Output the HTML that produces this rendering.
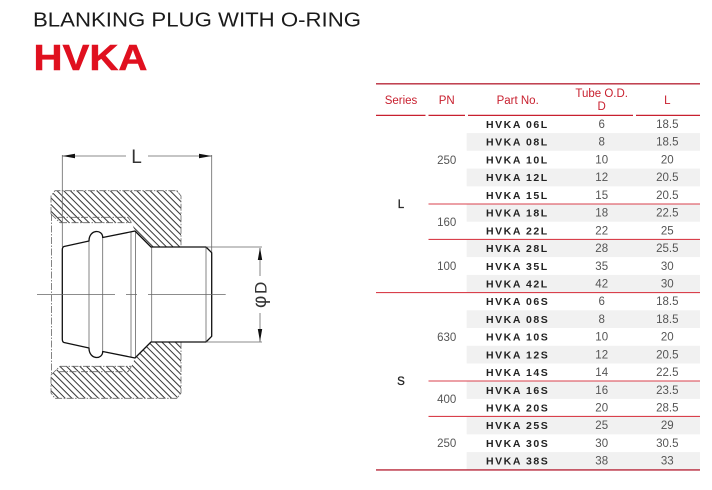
<!DOCTYPE html>
<html lang="en">
<head>
<meta charset="utf-8">
<title>HVKA</title>
<style>
html,body{margin:0;padding:0;background:#fff;width:712px;height:490px;overflow:hidden}
svg{display:block}
text{font-family:"Liberation Sans",sans-serif}
.h{fill:#c8202f;font-size:11.5px;text-anchor:middle}
.n{fill:#555;font-size:11.5px;text-anchor:middle}
.p{fill:#222;font-size:10.5px;font-weight:bold;letter-spacing:1.55px}
.s{fill:#222;font-size:11.5px;text-anchor:middle;stroke:#222;stroke-width:.3}
.st{fill:#f1f1f1}
.r{stroke:#d9404c;stroke-width:1.1;fill:none}
.o{fill:none;stroke:#666;stroke-width:.8;stroke-dasharray:7 1.5 1.5 1.5}
.k{fill:none;stroke:#111;stroke-width:1.3;stroke-linejoin:round}
.t{stroke:#666;stroke-width:.8;fill:none}
</style>
</head>
<body>
<svg width="712" height="490" viewBox="0 0 712 490" xmlns="http://www.w3.org/2000/svg">
<defs>
<pattern id="ha" width="4.7" height="4.7" patternUnits="userSpaceOnUse" patternTransform="rotate(45)">
<rect x="0" y="0" width="4.7" height="1" fill="#333"/>
</pattern>
</defs>

<text x="33" y="26.5" font-size="20" fill="#1a1a1a" textLength="328" lengthAdjust="spacingAndGlyphs">BLANKING PLUG WITH O-RING</text>
<text x="33.5" y="70" font-size="36" font-weight="bold" fill="#e0101f" stroke="#e0101f" stroke-width=".5" textLength="114" lengthAdjust="spacingAndGlyphs">HVKA</text>

<!-- Drawing: hatched body -->
<path d="M55 190.7H177L181 196V247H151L135 231L131.5 222.7H60L51 214V196Z" fill="url(#ha)"/>
<path d="M55 398.3H177L181 393V342H151L135 358L131.5 366.3H60L51 375V393Z" fill="url(#ha)"/>
<path d="M60 222.7H131.5M58 217.3H128L131.5 222.7" class="o"/>
<path d="M60 366.3H131.5M58 371.7H128L131.5 366.3" class="o"/>
<path d="M51 214V196L55 190.7H177L181 196V247M181 342V393L177 398.3H55L51 393V375" class="o"/>
<path d="M51.5 214V375" class="o"/>
<path d="M51 214L60 222.7M51 375L60 366.3" class="o"/>

<!-- Plug internal lines -->
<path d="M89 238V351M102.7 237V352M131 232V357M135.6 231V358M151.7 247V342M206 247V342" class="t"/>

<!-- Plug outline -->
<path d="M62.3 250Q62.3 247 64 246.5L89 241C89 229 102.7 229 102.7 237.5L135 231L151 247H206L211.7 252.7V336.3L206 342H151L135 358L102.7 351.5C102.7 360 89 360 89 348L64 342.5Q62.3 342 62.3 339Z" class="k"/>

<!-- Centre line -->
<path d="M37 294.6H115M126 294.6H137M148 294.6H225.7" class="t"/>

<!-- L dimension -->
<path d="M62.3 155V247M211.7 155V252" class="t"/>
<path d="M62.3 156H126M148 156H211.7" class="t"/>
<path d="M62.3 156L75 153.8V158.2ZM211.7 156L199 153.8V158.2Z" fill="#111"/>
<text x="136.5" y="163" font-size="19" fill="#333" text-anchor="middle">L</text>

<!-- D dimension -->
<path d="M206 247H262M206 342H262" class="t"/>
<path d="M260 248V276M260 313V342" class="t"/>
<path d="M260 247.5L257.8 260H262.2ZM260 341.5L257.8 329H262.2Z" fill="#111"/>
<text transform="translate(266.5,294) rotate(-90)" font-size="17" fill="#333">D</text>
<text transform="translate(266,308) rotate(-90)" font-size="19" fill="#333">φ</text>

<!-- Table stripes -->
<rect class="st" x="466.7" y="133.1" width="233.3" height="17.7"/>
<rect class="st" x="466.7" y="168.6" width="233.3" height="17.7"/>
<rect class="st" x="466.7" y="204" width="233.3" height="17.7"/>
<rect class="st" x="466.7" y="239.4" width="233.3" height="17.7"/>
<rect class="st" x="466.7" y="274.9" width="233.3" height="17.7"/>
<rect class="st" x="466.7" y="310.3" width="233.3" height="17.7"/>
<rect class="st" x="466.7" y="345.8" width="233.3" height="17.7"/>
<rect class="st" x="466.7" y="381.2" width="233.3" height="17.7"/>
<rect class="st" x="466.7" y="416.6" width="233.3" height="17.7"/>
<rect class="st" x="466.7" y="452.1" width="233.3" height="17.7"/>

<!-- Table rules -->
<path d="M376 83.8H700" stroke="#b8283a" stroke-width="1.4"/>
<path d="M376 115.4H425.5M428.5 115.4H465M468 115.4H633M636 115.4H700" stroke="#c8202f" stroke-width="1.2"/>
<path d="M428.5 204H700M428.5 239.4H700M376 292.6H700M428.5 381H700M428.5 416.4H700" class="r"/>
<path d="M376 469.9H700" stroke="#b8283a" stroke-width="1.4"/>

<!-- Header -->
<text class="h" x="401" y="104">Series</text>
<text class="h" x="446.7" y="104">PN</text>
<text class="h" x="517.7" y="104">Part No.</text>
<text class="h" x="601.7" y="97">Tube O.D.</text>
<text class="h" x="601.7" y="110">D</text>
<text class="h" x="667.3" y="104">L</text>

<!-- Series / PN -->
<text class="s" x="401" y="208">L</text>
<text class="s" x="401" y="385">S</text>
<text class="n" x="446.7" y="164">250</text>
<text class="n" x="446.7" y="226">160</text>
<text class="n" x="446.7" y="270">100</text>
<text class="n" x="446.7" y="341">630</text>
<text class="n" x="446.7" y="403">400</text>
<text class="n" x="446.7" y="447">250</text>

<!-- Rows -->
<text class="p" x="486" y="128">HVKA 06L</text><text class="n" x="601.7" y="128">6</text><text class="n" x="667.3" y="128">18.5</text>
<text class="p" x="486" y="145.7">HVKA 08L</text><text class="n" x="601.7" y="145.7">8</text><text class="n" x="667.3" y="145.7">18.5</text>
<text class="p" x="486" y="163.4">HVKA 10L</text><text class="n" x="601.7" y="163.4">10</text><text class="n" x="667.3" y="163.4">20</text>
<text class="p" x="486" y="181.2">HVKA 12L</text><text class="n" x="601.7" y="181.2">12</text><text class="n" x="667.3" y="181.2">20.5</text>
<text class="p" x="486" y="198.9">HVKA 15L</text><text class="n" x="601.7" y="198.9">15</text><text class="n" x="667.3" y="198.9">20.5</text>
<text class="p" x="486" y="216.6">HVKA 18L</text><text class="n" x="601.7" y="216.6">18</text><text class="n" x="667.3" y="216.6">22.5</text>
<text class="p" x="486" y="234.3">HVKA 22L</text><text class="n" x="601.7" y="234.3">22</text><text class="n" x="667.3" y="234.3">25</text>
<text class="p" x="486" y="252">HVKA 28L</text><text class="n" x="601.7" y="252">28</text><text class="n" x="667.3" y="252">25.5</text>
<text class="p" x="486" y="269.8">HVKA 35L</text><text class="n" x="601.7" y="269.8">35</text><text class="n" x="667.3" y="269.8">30</text>
<text class="p" x="486" y="287.5">HVKA 42L</text><text class="n" x="601.7" y="287.5">42</text><text class="n" x="667.3" y="287.5">30</text>
<text class="p" x="486" y="305.2">HVKA 06S</text><text class="n" x="601.7" y="305.2">6</text><text class="n" x="667.3" y="305.2">18.5</text>
<text class="p" x="486" y="322.9">HVKA 08S</text><text class="n" x="601.7" y="322.9">8</text><text class="n" x="667.3" y="322.9">18.5</text>
<text class="p" x="486" y="340.6">HVKA 10S</text><text class="n" x="601.7" y="340.6">10</text><text class="n" x="667.3" y="340.6">20</text>
<text class="p" x="486" y="358.4">HVKA 12S</text><text class="n" x="601.7" y="358.4">12</text><text class="n" x="667.3" y="358.4">20.5</text>
<text class="p" x="486" y="376.1">HVKA 14S</text><text class="n" x="601.7" y="376.1">14</text><text class="n" x="667.3" y="376.1">22.5</text>
<text class="p" x="486" y="393.8">HVKA 16S</text><text class="n" x="601.7" y="393.8">16</text><text class="n" x="667.3" y="393.8">23.5</text>
<text class="p" x="486" y="411.5">HVKA 20S</text><text class="n" x="601.7" y="411.5">20</text><text class="n" x="667.3" y="411.5">28.5</text>
<text class="p" x="486" y="429.2">HVKA 25S</text><text class="n" x="601.7" y="429.2">25</text><text class="n" x="667.3" y="429.2">29</text>
<text class="p" x="486" y="447">HVKA 30S</text><text class="n" x="601.7" y="447">30</text><text class="n" x="667.3" y="447">30.5</text>
<text class="p" x="486" y="464.7">HVKA 38S</text><text class="n" x="601.7" y="464.7">38</text><text class="n" x="667.3" y="464.7">33</text>
</svg>
</body>
</html>
